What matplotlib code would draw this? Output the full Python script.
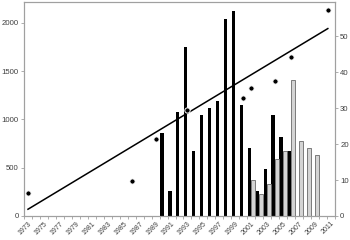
import numpy as np
import matplotlib.pyplot as plt

plt.rcParams['font.family'] = ['Liberation Sans', 'DejaVu Sans']

# category axis
years = list(range(1973, 2012))
label_years = list(range(1973, 2012, 2))

# black bars (right axis)
black_years = list(range(1990, 2007))
black_vals = [23, 7, 29, 47, 18, 28, 30, 32, 55, 57, 31, 19, 7, 13, 28, 22, 18]

# grey bars (right axis)
grey_years = list(range(2001, 2010))
grey_vals = [10, 6, 9, 16, 18, 38, 21, 19, 17]

# dots (left axis)
dot_years = [1973, 1986, 1989, 1993, 2000, 2001, 2004, 2006, 2010.6]
dot_vals = [240, 360, 800, 1100, 1220, 1330, 1400, 1650, 2130]

# linear trend of the dots, end points
trend_years = [1973, 2010.6]
trend_vals = [70, 1940]

axis_col = '#a0a0a0'
text_col = '#404040'

fig = plt.figure(figsize=(3.5, 2.4), dpi=100)
ax = fig.add_axes([24 / 350, 24 / 240, 311 / 350, 214 / 240])
ax2 = ax.twinx()
ax.set_zorder(ax2.get_zorder() + 1)
ax.patch.set_visible(False)

w = 0.465
ax2.bar(np.array(black_years) - w / 2, black_vals, width=w, color='black', linewidth=0)
ax2.bar(np.array(grey_years) + w / 2, grey_vals, width=w, color='#d4d4d4',
        edgecolor='#6a6a6a', linewidth=0.6)

ax.plot(trend_years, trend_vals, color='black', linewidth=1.1)
ax.plot(dot_years, dot_vals, 'o', color='black', markersize=3.8,
        markeredgecolor='white', markeredgewidth=0.7)

ax.set_xlim(years[0] - 0.5, years[-1] + 0.5)
ax.set_ylim(0, 2215)
ax2.set_ylim(0, 59.6)

ax.set_yticks([0, 500, 1000, 1500, 2000])
ax2.set_yticks([0, 10, 20, 30, 40, 50])
ax.set_xticks(label_years)
ax.set_xticklabels([str(y) for y in label_years], rotation=45, ha='right', va='top',
                   rotation_mode='anchor', fontsize=5.0, color=text_col)
ax.set_xticks(np.arange(years[0] - 0.5, years[-1] + 1), minor=True)

ax.tick_params(axis='x', which='major', length=0, pad=3)
ax.tick_params(axis='x', which='minor', length=2.2, width=0.6, color=axis_col)
ax.tick_params(axis='y', length=2.2, width=0.6, color=axis_col, labelsize=5.6,
               labelcolor=text_col, pad=1.5)
ax2.tick_params(axis='y', length=2.2, width=0.6, color=axis_col, labelsize=5.6,
                labelcolor=text_col, pad=1.5)

for a in (ax, ax2):
    for s in a.spines.values():
        s.set_color(axis_col)
        s.set_linewidth(0.8)

fig.savefig('out.png', dpi=100)
